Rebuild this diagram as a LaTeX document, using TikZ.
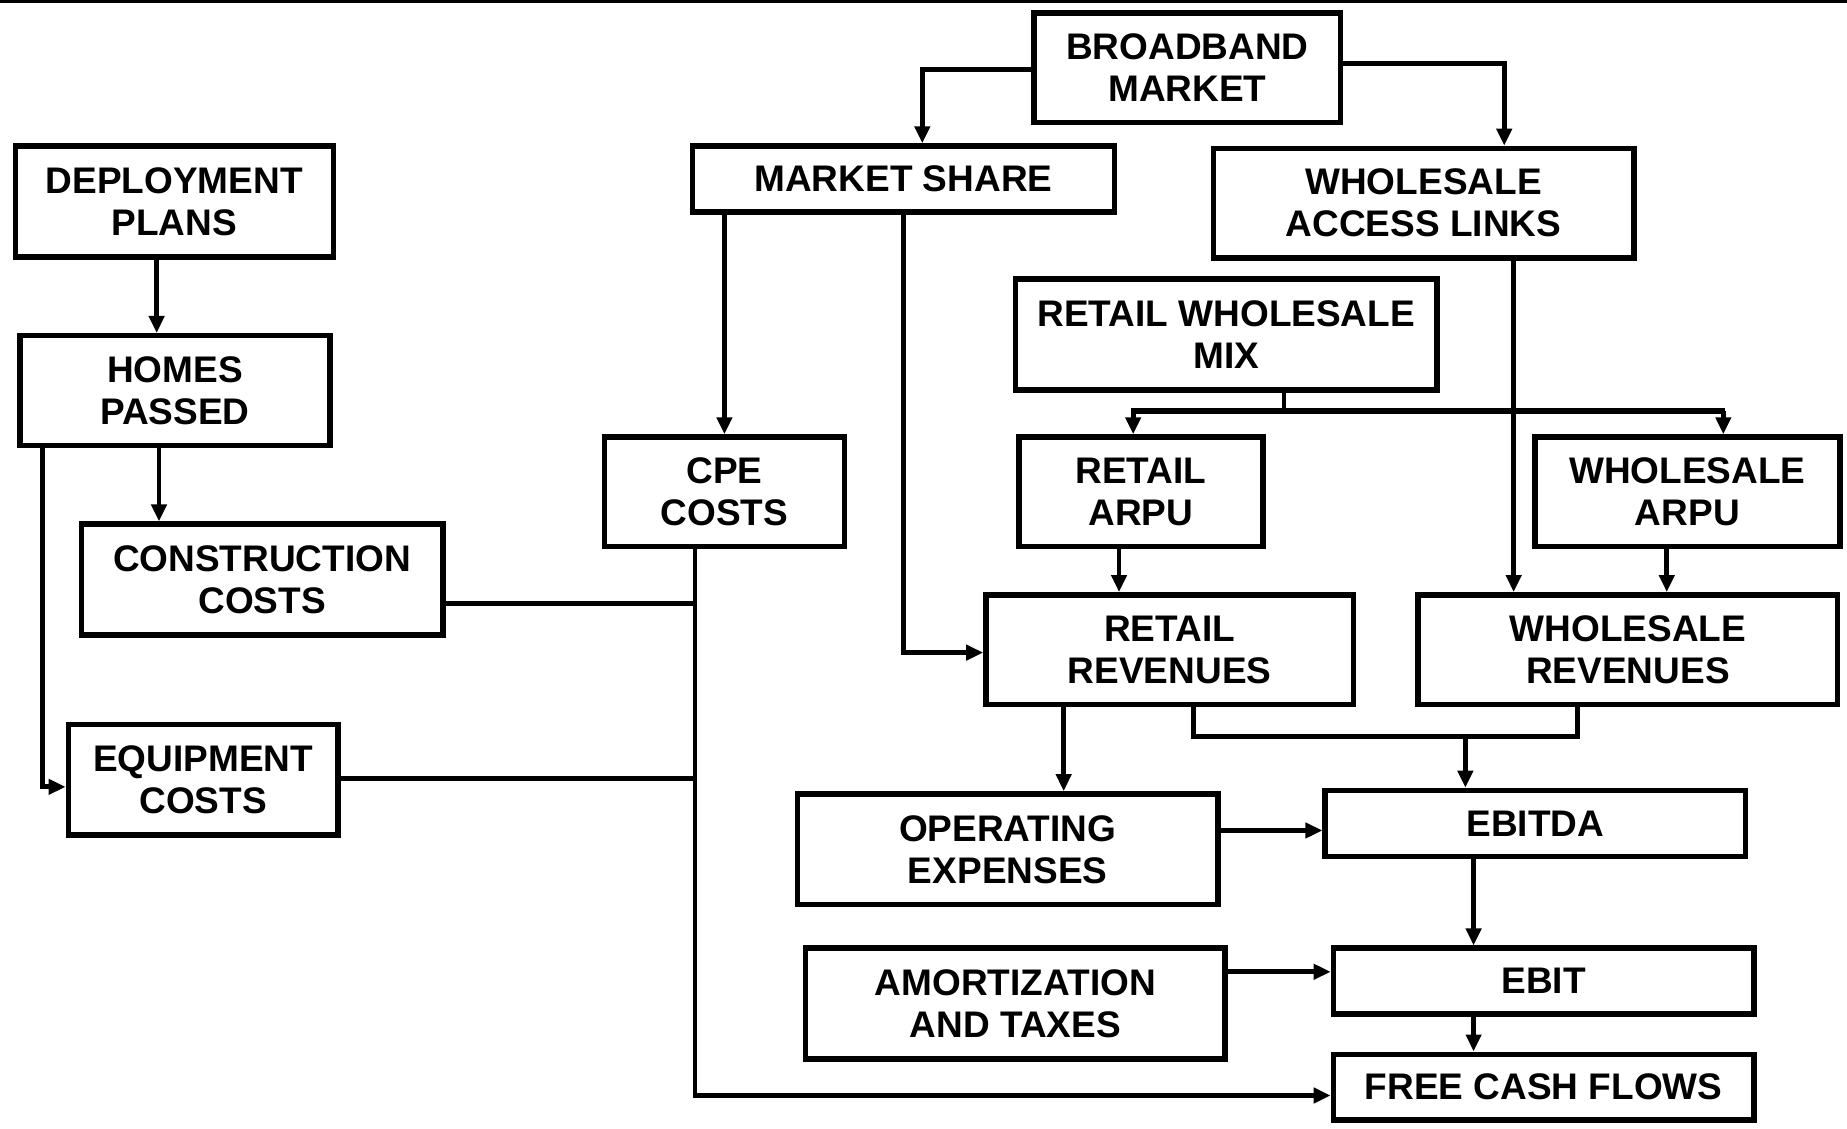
\documentclass[tikz,border=0pt]{standalone}
\usepackage{fontspec}
\setmainfont{Liberation Sans}
\usetikzlibrary{arrows.meta}
\begin{document}
\begin{tikzpicture}[x=1.17793pt,y=-1.17793pt,
  blk/.style={draw, line width=5.5pt, inner sep=0pt, align=center,
    font=\fontsize{37}{42}\selectfont\bfseries},
  ln/.style={line width=4.8pt},
  arr/.style={line width=4.8pt, -{Triangle[length=17pt,width=15pt]}},
  busline/.style={line width=6pt}]
\useasboundingbox (0,0) rectangle (1568,958);
% rule along the upper edge
\fill (0,0) rectangle (1568,2.8);
% box from corner (x1,y1) to corner (x2,y2)
\newcommand\bx[6]{\node[blk, minimum width={(#4-#2-4)*1.17793pt},
  minimum height={(#5-#3-4)*1.17793pt}] (#1) at ({(#2+#4)/2},{(#3+#5)/2}) {#6};}
\bx{bb}{876}{9}{1140}{106}{BROADBAND\\MARKET}
\bx{ms}{586}{122}{948}{182}{MARKET SHARE}
\bx{wal}{1028}{124}{1389}{221}{WHOLESALE\\ACCESS LINKS}
\bx{dp}{11}{122}{285}{220}{DEPLOYMENT\\PLANS}
\bx{hp}{15}{283}{282}{380}{HOMES\\PASSED}
\bx{mix}{860}{235}{1222}{333}{RETAIL WHOLESALE\\MIX}
\bx{cpe}{511}{369}{719}{466}{CPE\\COSTS}
\bx{ra}{863}{369}{1074}{466}{RETAIL\\ARPU}
\bx{wa}{1301}{369}{1564}{466}{WHOLESALE\\ARPU}
\bx{cc}{67}{443}{378}{541}{CONSTRUCTION\\COSTS}
\bx{rr}{835}{503}{1151}{600}{RETAIL\\REVENUES}
\bx{wr}{1202}{503}{1562}{600}{WHOLESALE\\REVENUES}
\bx{ec}{56}{613}{289}{711}{EQUIPMENT\\COSTS}
\bx{opex}{675}{672}{1036}{770}{OPERATING\\EXPENSES}
\bx{ebitda}{1123}{669}{1484}{729}{EBITDA}
\bx{amort}{682}{803}{1042}{901}{AMORTIZATION\\AND TAXES}
\bx{ebit}{1130}{803}{1491}{863}{EBIT}
\bx{fcf}{1130}{893}{1491}{953}{FREE CASH FLOWS}
% junction points
\coordinate (mixj) at (1090,349);
\coordinate (mixl) at (960,349);
\coordinate (mixr) at (1464,349);
\coordinate (capj) at (590,512);
\coordinate (eqj) at (590,661);
\coordinate (revl) at (1013,625);
\coordinate (revr) at (1339,625);
\coordinate (revj) at (1244,625);
% market branches
\draw[arr] (bb.west |- 0,59) -| (783,0 |- ms.north);
\draw[arr] (bb.east |- 0,54) -| (1277,0 |- wal.north);
% deployment chain
\draw[arr] (133,0 |- dp.south) -- (133,0 |- hp.north);
\draw[arr] (135,0 |- hp.south) -- (135,0 |- cc.north);
\draw[arr] (36,0 |- hp.south) |- (ec.west |- 0,668);
% market share outputs
\draw[arr] (615,0 |- ms.south) -- (615,0 |- cpe.north);
\draw[arr] (767,0 |- ms.south) |- (rr.west |- 0,554);
\draw[arr] (1285,0 |- wal.south) -- (1285,0 |- wr.north);
% retail / wholesale mix split
\draw[ln] (mixj |- mix.south) -- (mixj);
\draw[busline] (mixl) -- (mixr);
\draw[arr] (962,349) -- (962,0 |- ra.north);
\draw[arr] (1463,349) -- (1463,0 |- wa.north);
% ARPU to revenues
\draw[arr] (950,0 |- ra.south) -- (950,0 |- rr.north);
\draw[arr] (1415,0 |- wa.south) -- (1415,0 |- wr.north);
% capital costs collector
\draw[ln] (cc.east |- capj) -- (capj);
\draw[ln] (ec.east |- eqj) -- (eqj);
\draw[arr] (590,0 |- cpe.south) |- (fcf.west |- 0,930);
% revenues to results
\draw[arr] (903,0 |- rr.south) -- (903,0 |- opex.north);
\draw[ln] (revl |- rr.south) -- (revl) -- (revr) -- (revr |- wr.south);
\draw[arr] (revj) -- (revj |- ebitda.north);
\draw[arr] (opex.east |- 0,705) -- (ebitda.west |- 0,705);
\draw[arr] (1251,0 |- ebitda.south) -- (1251,0 |- ebit.north);
\draw[arr] (amort.east |- 0,825) -- (ebit.west |- 0,825);
\draw[arr] (1251,0 |- ebit.south) -- (1251,0 |- fcf.north);
\end{tikzpicture}
\end{document}
